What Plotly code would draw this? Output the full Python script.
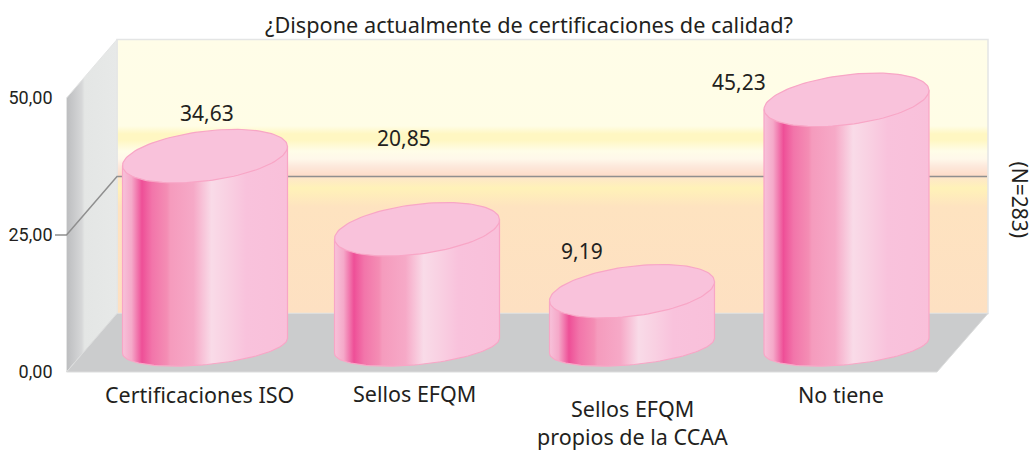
import numpy as np
import plotly.graph_objects as go

# ---- data ----
title = "¿Dispone actualmente de certificaciones de calidad?"
categories = ["Certificaciones ISO", "Sellos EFQM", "Sellos EFQM", "No tiene"]
category_second_lines = ["", "", "propios de la CCAA", ""]
values = [34.63, 20.85, 9.19, 45.23]
value_labels = ["34,63", "20,85", "9,19", "45,23"]
tick_values = [0, 25, 50]
tick_labels = ["0,00", "25,00", "50,00"]
note = "(N=283)"

# ---- layout constants (pixel-based x axis, two y scales: front axis and mid-depth plane) ----
W, H = 1036, 451
CENTERS = [205, 417, 632, 846.5]
RX = 82.5
FRONT0, FRONT_K = 372, 5.48      # px of value 0, px per unit on the front axis
MID0, MID_K = 340, 5.31          # same for the plane in which the cylinders stand
BASE_PX = 345.7
front_range = [(FRONT0 - H) / FRONT_K, FRONT0 / FRONT_K]
mid_range = [(MID0 - H) / MID_K, MID0 / MID_K]
XL, XR, XB, XE = 66.5, 117, 937, 988
DEPTH = 58.5 / FRONT_K
WALL_TOP = (FRONT0 - 39.5) / FRONT_K


def px(p):
    return (FRONT0 - p) / FRONT_K


FONT = "Noto Sans"
TXT = "#231f20"
PINK_LINE = "#f8a6c6"
PINK_TOP = "#f9c2db"

body_scale = [
    [0.00, "#f7c2da"], [0.055, "#f5a9c9"], [0.118, "#ee4f97"], [0.18, "#f275aa"],
    [0.27, "#f48db4"], [0.29, "#f59bbd"], [0.43, "#f6a9c7"], [0.54, "#f9dbe8"],
    [0.64, "#f9d0e2"], [0.75, "#f9c2dc"], [1.00, "#f9c0da"],
]
wall_stops = [  # px height from the top of the picture -> colour
    (39.5, "#fffde8"), (126, "#fffde6"), (134, "#fff7c2"), (140, "#fff7c2"), (151, "#fffde8"),
    (159, "#fff8ea"), (166, "#fde9dc"), (176, "#fddcc8"), (178, "#fee8c8"), (188, "#fff2b8"),
    (207, "#fee3c0"), (313.5, "#fde0c2"),
]
wall_scale = [[(313.5 - p) / (313.5 - 39.5), c] for p, c in reversed(wall_stops)]

fig = go.Figure()


def poly(xs, ys, yaxis="y", **kw):
    fig.add_trace(go.Scatter(x=xs, y=ys, yaxis=yaxis, mode="lines", fill="toself",
                             showlegend=False, hoverinfo="skip", **kw))


# back wall
poly([XR, XE, XE, XR, XR], [DEPTH, DEPTH, WALL_TOP, WALL_TOP, DEPTH],
     line=dict(color="#e4e5e5", width=1.5),
     fillgradient=dict(type="vertical", colorscale=wall_scale, start=DEPTH, stop=WALL_TOP))
# side wall
poly([XL, XR, XR, XL, XL], [0, DEPTH, WALL_TOP, 50, 0],
     line=dict(color="#e4e5e5", width=1),
     fillgradient=dict(type="horizontal", start=XL, stop=XR,
                       colorscale=[[0, "#bcbdbf"], [0.3, "#d6d7d8"], [0.36, "#e4e6e5"], [1, "#e7e9e8"]]))
# floor
poly([XL, XR, XE, XB, XL], [0, DEPTH, DEPTH, 0, 0],
     line=dict(color="#dcdddd", width=1), fillcolor="#cbcccd")

# 25 gridline with tick
fig.add_trace(go.Scatter(x=[55, XL, XR, XE - 1], y=[25, 25, 25 + DEPTH, 25 + DEPTH], mode="lines",
                         line=dict(color="#8f8f8f", width=1.5), showlegend=False, hoverinfo="skip"))

t_low = np.linspace(0, np.pi, 60)
t_all = np.linspace(0, 2 * np.pi, 120)
TK, TB = 9.5, 25.0    # top ellipse shear/half-height in px
BK, BB = 7.5, 19.0    # base ellipse
base = (MID0 - BASE_PX) / MID_K
for cx, v in zip(CENTERS, values):
    top = v
    # body
    low_y = base + (BK * np.cos(t_low) - BB * np.sin(t_low)) / MID_K
    ys = np.r_[top - TK / MID_K, top + TK / MID_K, low_y, top - TK / MID_K]
    xs = np.r_[cx - RX, cx + RX, cx + RX * np.cos(t_low), cx - RX]
    poly(xs.tolist(), ys.tolist(), yaxis="y2", line=dict(color=PINK_LINE, width=1.2),
         fillgradient=dict(type="horizontal", start=cx - RX, stop=cx + RX, colorscale=body_scale))
    # top ellipse
    xs = cx + RX * np.cos(t_all)
    ys = top + (TK * np.cos(t_all) + TB * np.sin(t_all)) / MID_K
    poly(xs.tolist(), ys.tolist(), yaxis="y2", line=dict(color=PINK_LINE, width=1.2), fillcolor=PINK_TOP)

annos = []
label_pos = [(207, 113), (404, 138), (582, 251), (739, 82)]
for (lx, ly), txt in zip(label_pos, value_labels):
    annos.append(dict(x=lx, y=px(ly), xref="x", yref="y", text=txt, showarrow=False,
                      font=dict(family=FONT, size=21, color=TXT)))
cat_pos = [(199, 394), (414, 393), (632, 408), (841, 394)]
for (lx, ly), txt, second in zip(cat_pos, categories, category_second_lines):
    annos.append(dict(x=lx, y=px(ly), xref="x", yref="y", text=txt, showarrow=False,
                      font=dict(family=FONT, size=21.5, color=TXT)))
    if second:
        annos.append(dict(x=lx, y=px(436.4), xref="x", yref="y", text=second, showarrow=False,
                          font=dict(family=FONT, size=21.5, color=TXT)))
annos.append(dict(x=529, y=px(24.5), xref="x", yref="y", text=title, showarrow=False,
                  font=dict(family=FONT, size=21.7, color=TXT)))
annos.append(dict(x=1019.5, y=px(200), xref="x", yref="y", text=note, showarrow=False, textangle=90,
                  font=dict(family=FONT, size=21, color=TXT)))

fig.update_layout(
    width=W, height=H, margin=dict(l=0, r=0, t=0, b=0, pad=0),
    paper_bgcolor="white", plot_bgcolor="white", showlegend=False, annotations=annos,
    xaxis=dict(range=[0, W], domain=[0, 1], visible=False, fixedrange=True),
    yaxis=dict(range=front_range, domain=[0, 1], anchor="free", position=XL / W, side="left",
               tickmode="array", tickvals=tick_values, ticktext=tick_labels, ticks="",
               showgrid=False, zeroline=False, showline=False, ticklabelstandoff=14,
               tickfont=dict(family="Roboto", size=18, color=TXT), fixedrange=True),
    yaxis2=dict(range=mid_range, domain=[0, 1], overlaying="y", anchor="x", visible=False, fixedrange=True),
)
fig.write_html("out.html", config={"displayModeBar": False},
               post_script="document.body.style.margin='0';document.body.style.overflow='hidden';")
